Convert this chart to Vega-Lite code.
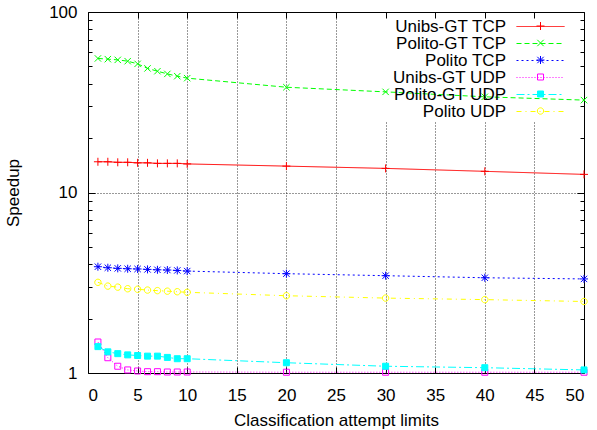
{
  "$schema": "https://vega.github.io/schema/vega-lite/v6.json",
  "width": 496,
  "height": 361,
  "autosize": "none",
  "padding": {"left": 88, "top": 12, "right": 13, "bottom": 57},
  "background": "white",
  "config": {
    "font": "Liberation Sans",
    "view": {"stroke": "black", "strokeWidth": 1},
    "axis": {"labelFontSize": 17, "titleFontSize": 17, "titleFontWeight": "normal", "labelColor": "black", "titleColor": "black", "tickColor": "black", "gridColor": "black", "gridWidth": 1}
  },
  "data": {"values": [
    {"series": "Unibs-GT TCP", "x": 1, "y": 14.8},
    {"series": "Unibs-GT TCP", "x": 2, "y": 14.8},
    {"series": "Unibs-GT TCP", "x": 3, "y": 14.7},
    {"series": "Unibs-GT TCP", "x": 4, "y": 14.7},
    {"series": "Unibs-GT TCP", "x": 5, "y": 14.6},
    {"series": "Unibs-GT TCP", "x": 6, "y": 14.6},
    {"series": "Unibs-GT TCP", "x": 7, "y": 14.5},
    {"series": "Unibs-GT TCP", "x": 8, "y": 14.5},
    {"series": "Unibs-GT TCP", "x": 9, "y": 14.5},
    {"series": "Unibs-GT TCP", "x": 10, "y": 14.4},
    {"series": "Unibs-GT TCP", "x": 20, "y": 14.0},
    {"series": "Unibs-GT TCP", "x": 30, "y": 13.6},
    {"series": "Unibs-GT TCP", "x": 40, "y": 13.1},
    {"series": "Unibs-GT TCP", "x": 50, "y": 12.6},
    {"series": "Polito-GT TCP", "x": 1, "y": 55.3},
    {"series": "Polito-GT TCP", "x": 2, "y": 54.8},
    {"series": "Polito-GT TCP", "x": 3, "y": 54.3},
    {"series": "Polito-GT TCP", "x": 4, "y": 53.4},
    {"series": "Polito-GT TCP", "x": 5, "y": 51.6},
    {"series": "Polito-GT TCP", "x": 6, "y": 48.7},
    {"series": "Polito-GT TCP", "x": 7, "y": 47.0},
    {"series": "Polito-GT TCP", "x": 8, "y": 45.4},
    {"series": "Polito-GT TCP", "x": 9, "y": 44.1},
    {"series": "Polito-GT TCP", "x": 10, "y": 43.0},
    {"series": "Polito-GT TCP", "x": 20, "y": 38.3},
    {"series": "Polito-GT TCP", "x": 30, "y": 36.1},
    {"series": "Polito-GT TCP", "x": 40, "y": 33.9},
    {"series": "Polito-GT TCP", "x": 50, "y": 32.5},
    {"series": "Polito TCP", "x": 1, "y": 3.88},
    {"series": "Polito TCP", "x": 2, "y": 3.83},
    {"series": "Polito TCP", "x": 3, "y": 3.80},
    {"series": "Polito TCP", "x": 4, "y": 3.78},
    {"series": "Polito TCP", "x": 5, "y": 3.77},
    {"series": "Polito TCP", "x": 6, "y": 3.75},
    {"series": "Polito TCP", "x": 7, "y": 3.73},
    {"series": "Polito TCP", "x": 8, "y": 3.72},
    {"series": "Polito TCP", "x": 9, "y": 3.70},
    {"series": "Polito TCP", "x": 10, "y": 3.67},
    {"series": "Polito TCP", "x": 20, "y": 3.55},
    {"series": "Polito TCP", "x": 30, "y": 3.46},
    {"series": "Polito TCP", "x": 40, "y": 3.37},
    {"series": "Polito TCP", "x": 50, "y": 3.32},
    {"series": "Unibs-GT UDP", "x": 1, "y": 1.485},
    {"series": "Unibs-GT UDP", "x": 2, "y": 1.215},
    {"series": "Unibs-GT UDP", "x": 3, "y": 1.09},
    {"series": "Unibs-GT UDP", "x": 4, "y": 1.04},
    {"series": "Unibs-GT UDP", "x": 5, "y": 1.026},
    {"series": "Unibs-GT UDP", "x": 6, "y": 1.017},
    {"series": "Unibs-GT UDP", "x": 7, "y": 1.017},
    {"series": "Unibs-GT UDP", "x": 8, "y": 1.013},
    {"series": "Unibs-GT UDP", "x": 9, "y": 1.013},
    {"series": "Unibs-GT UDP", "x": 10, "y": 1.013},
    {"series": "Unibs-GT UDP", "x": 20, "y": 1.01},
    {"series": "Unibs-GT UDP", "x": 30, "y": 1.01},
    {"series": "Unibs-GT UDP", "x": 40, "y": 1.01},
    {"series": "Unibs-GT UDP", "x": 50, "y": 1.01},
    {"series": "Polito-GT UDP", "x": 1, "y": 1.40},
    {"series": "Polito-GT UDP", "x": 2, "y": 1.31},
    {"series": "Polito-GT UDP", "x": 3, "y": 1.28},
    {"series": "Polito-GT UDP", "x": 4, "y": 1.26},
    {"series": "Polito-GT UDP", "x": 5, "y": 1.25},
    {"series": "Polito-GT UDP", "x": 6, "y": 1.24},
    {"series": "Polito-GT UDP", "x": 7, "y": 1.24},
    {"series": "Polito-GT UDP", "x": 8, "y": 1.22},
    {"series": "Polito-GT UDP", "x": 9, "y": 1.20},
    {"series": "Polito-GT UDP", "x": 10, "y": 1.20},
    {"series": "Polito-GT UDP", "x": 20, "y": 1.14},
    {"series": "Polito-GT UDP", "x": 30, "y": 1.09},
    {"series": "Polito-GT UDP", "x": 40, "y": 1.07},
    {"series": "Polito-GT UDP", "x": 50, "y": 1.04},
    {"series": "Polito UDP", "x": 1, "y": 3.18},
    {"series": "Polito UDP", "x": 2, "y": 3.03},
    {"series": "Polito UDP", "x": 3, "y": 2.99},
    {"series": "Polito UDP", "x": 4, "y": 2.93},
    {"series": "Polito UDP", "x": 5, "y": 2.91},
    {"series": "Polito UDP", "x": 6, "y": 2.88},
    {"series": "Polito UDP", "x": 7, "y": 2.86},
    {"series": "Polito UDP", "x": 8, "y": 2.84},
    {"series": "Polito UDP", "x": 9, "y": 2.82},
    {"series": "Polito UDP", "x": 10, "y": 2.80},
    {"series": "Polito UDP", "x": 20, "y": 2.68},
    {"series": "Polito UDP", "x": 30, "y": 2.60},
    {"series": "Polito UDP", "x": 40, "y": 2.55},
    {"series": "Polito UDP", "x": 50, "y": 2.49}
  ]},
  "layer": [
    {
      "mark": {"type": "line", "strokeWidth": 1, "clip": true},
      "encoding": {
        "x": {"field": "x", "type": "quantitative", "scale": {"domain": [0, 50], "nice": false, "zero": false},
          "axis": {"orient": "bottom", "values": [0, 5, 10, 15, 20, 25, 30, 35, 40, 45, 50], "domain": false, "tickSize": -6, "labelPadding": 20, "title": "Classification attempt limits", "titlePadding": 9, "grid": true,
            "gridDash": {"condition": {"test": "datum.value >= 30", "value": [0,110,1,2,1,2,1,2,1,2,1,2,1,2,1,2,1,2,1,2,1,2,1,2,1,2,1,2,1,2,1,2,1,2,1,2,1,2,1,2,1,2,1,2,1,2,1,2,1,2,1,2,1,2,1,2,1,2,1,2,1,2,1,2,1,2,1,2,1,2,1,2,1,2,1,2,1,2,1,2,1,2,1,2,1,2,1,2,1,2,1,2,1,2,1,2,1,2,1,2,1,2,1,2,1,2,1,2,1,2,1,2,1,2,1,2,1,2,1,2,1,2,1,2,1,2,1,2,1,2,1,2,1,2,1,2,1,2,1,2,1,2,1,2,1,2,1,2,1,2,1,2,1,2,1,2,1,2,1,2,1,2,1,2,1,2,1,2,1,2,1,2,1,2,1,2]}, "value": [1, 2]},
            "gridOpacity": {"condition": {"test": "datum.value == 0 || datum.value == 50", "value": 0}, "value": 0.8}}},
        "y": {"field": "y", "type": "quantitative", "scale": {"type": "log", "domain": [1, 100], "nice": false},
          "axis": {"orient": "left", "values": [1, 2, 3, 4, 5, 6, 7, 8, 9, 10, 20, 30, 40, 50, 60, 70, 80, 90, 100], "format": "d", "domain": false,
            "labelExpr": "datum.value == 1 || datum.value == 10 || datum.value == 100 ? datum.label : ''",
            "tickSize": {"condition": {"test": "datum.value == 1 || datum.value == 10 || datum.value == 100", "value": -7}, "value": -4},
            "labelPadding": 18, "title": "Speedup", "titlePadding": 26, "grid": true, "gridDash": [1, 2],
            "gridOpacity": {"condition": {"test": "datum.value == 10", "value": 0.8}, "value": 0}}},
        "stroke": {"field": "series", "type": "nominal",
          "scale": {"domain": ["Unibs-GT TCP", "Polito-GT TCP", "Polito TCP", "Unibs-GT UDP", "Polito-GT UDP", "Polito UDP"], "range": ["#ff0000", "#00ff00", "#0000ff", "#ff00ff", "#00ffff", "#ffff00"]},
          "legend": {"orient": "none", "legendX": 444, "legendY": 6, "title": null, "symbolType": "M-3,0L3,0", "symbolSize": 256, "symbolStrokeWidth": 1, "symbolOpacity": 1, "labelAlign": "right", "labelOffset": -43, "labelFontSize": 17, "labelColor": "black", "labelLimit": 300, "rowPadding": -1, "padding": 0}},
        "strokeDash": {"field": "series", "type": "nominal",
          "scale": {"domain": ["Unibs-GT TCP", "Polito-GT TCP", "Polito TCP", "Unibs-GT UDP", "Polito-GT UDP", "Polito UDP"], "range": [[1, 0], [5, 3], [2, 3], [1, 2], [8, 3, 2, 3], [5, 4, 1, 4]]},
          "legend": {"orient": "none", "legendX": 444, "legendY": 6, "title": null, "symbolType": "M-3,0L3,0", "symbolSize": 256, "symbolStrokeWidth": 1, "symbolOpacity": 1, "labelAlign": "right", "labelOffset": -43, "labelFontSize": 17, "labelColor": "black", "labelLimit": 300, "rowPadding": -1, "padding": 0}}
      }
    },
    {
      "mark": {"type": "point", "size": 64, "strokeWidth": 1, "opacity": 1},
      "encoding": {
        "x": {"field": "x", "type": "quantitative",
          "axis": {"orient": "top", "values": [0, 5, 10, 15, 20, 25, 30, 35, 40, 45, 50], "domain": false, "labels": false, "tickSize": -6, "title": null, "grid": false}},
        "y": {"field": "y", "type": "quantitative",
          "axis": {"orient": "right", "values": [1, 2, 3, 4, 5, 6, 7, 8, 9, 10, 20, 30, 40, 50, 60, 70, 80, 90, 100], "domain": false, "labels": false, "title": null, "grid": false,
            "tickSize": {"condition": {"test": "datum.value == 1 || datum.value == 10 || datum.value == 100", "value": -7}, "value": -4}}},
        "stroke": {"field": "series", "type": "nominal",
          "legend": {"orient": "none", "legendX": 447.5, "legendY": 5.5, "title": null, "symbolSize": 64, "symbolStrokeWidth": 1, "symbolOpacity": 1, "labelExpr": "''", "clipHeight": 17, "rowPadding": 0, "padding": 0}},
        "fill": {"field": "series", "type": "nominal",
          "scale": {"domain": ["Unibs-GT TCP", "Polito-GT TCP", "Polito TCP", "Unibs-GT UDP", "Polito-GT UDP", "Polito UDP"], "range": ["transparent", "transparent", "transparent", "transparent", "#00ffff", "transparent"]},
          "legend": {"orient": "none", "legendX": 447.5, "legendY": 5.5, "title": null, "symbolSize": 64, "symbolStrokeWidth": 1, "symbolOpacity": 1, "labelExpr": "''", "clipHeight": 17, "rowPadding": 0, "padding": 0}},
        "shape": {"field": "series", "type": "nominal",
          "scale": {"domain": ["Unibs-GT TCP", "Polito-GT TCP", "Polito TCP", "Unibs-GT UDP", "Polito-GT UDP", "Polito UDP"],
            "range": ["M-1,0L1,0M0,-1L0,1", "M-0.8,-0.8L0.8,0.8M-0.8,0.8L0.8,-0.8", "M-1,0L1,0M0,-1L0,1M-0.8,-0.8L0.8,0.8M-0.8,0.8L0.8,-0.8", "M-0.75,-0.75L0.75,-0.75L0.75,0.75L-0.75,0.75Z", "M-0.75,-0.75L0.75,-0.75L0.75,0.75L-0.75,0.75Z", "M-0.8,0A0.8,0.8,0,1,1,0.8,0A0.8,0.8,0,1,1,-0.8,0Z"]},
          "legend": {"orient": "none", "legendX": 447.5, "legendY": 5.5, "title": null, "symbolSize": 64, "symbolStrokeWidth": 1, "symbolOpacity": 1, "labelExpr": "''", "clipHeight": 17, "rowPadding": 0, "padding": 0}}
      }
    }
  ],
  "resolve": {
    "axis": {"x": "independent", "y": "independent"},
    "legend": {"stroke": "independent", "fill": "independent", "shape": "independent", "strokeDash": "independent"}
  }
}
